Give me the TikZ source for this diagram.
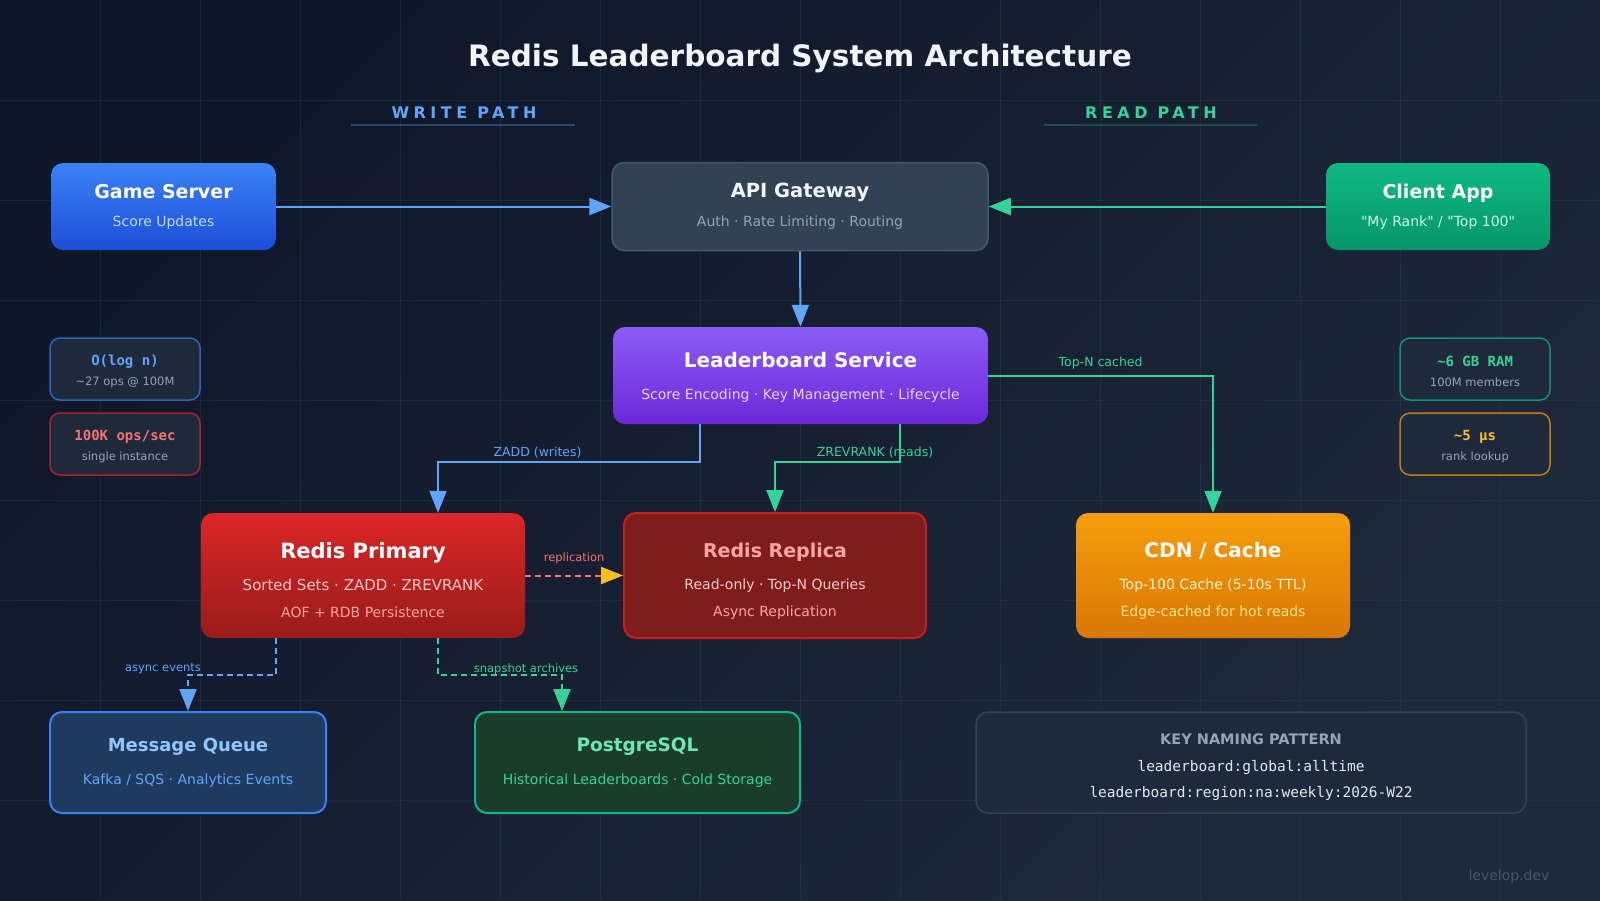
\documentclass[tikz,border=0pt]{standalone}
\usepackage{fontspec}
\setmainfont{DejaVu Sans}
\setmonofont{DejaVu Sans Mono}
\newfontfamily\spacedfont{DejaVu Sans}[LetterSpace=28]
\newfontfamily\plainfont{DejaVu Sans}
\usetikzlibrary{arrows.meta}

\definecolor{bgA}{HTML}{0F172A}
\definecolor{bgB}{HTML}{1E293B}
\definecolor{gridc}{HTML}{334155}
\definecolor{titlec}{HTML}{F1F5F9}
\definecolor{wcol}{HTML}{60A5FA}
\definecolor{rcol}{HTML}{34D399}
\definecolor{wline}{HTML}{2A4470}
\definecolor{rline}{HTML}{1F4D4A}
\definecolor{gameA}{HTML}{3B82F6}
\definecolor{gameB}{HTML}{1D4ED8}
\definecolor{gamesub}{HTML}{BFDBFE}
\definecolor{apifill}{HTML}{334155}
\definecolor{apiborder}{HTML}{475569}
\definecolor{apisub}{HTML}{94A3B8}
\definecolor{clientA}{HTML}{10B981}
\definecolor{clientB}{HTML}{059669}
\definecolor{clientsub}{HTML}{D1FAE5}
\definecolor{lbsA}{HTML}{8B5CF6}
\definecolor{lbsB}{HTML}{6D28D9}
\definecolor{lbssub}{HTML}{DDD6FE}
\definecolor{primA}{HTML}{DC2626}
\definecolor{primB}{HTML}{991B1B}
\definecolor{primsub}{HTML}{FECACA}
\definecolor{primdim}{HTML}{FCA5A5}
\definecolor{replfill}{HTML}{7F1D1D}
\definecolor{replborder}{HTML}{C81E1E}
\definecolor{cdnA}{HTML}{F59E0B}
\definecolor{cdnB}{HTML}{D97706}
\definecolor{cdnsub}{HTML}{FEF3C7}
\definecolor{cdndim}{HTML}{FDE68A}
\definecolor{mqfill}{HTML}{1E3A5F}
\definecolor{mqborder}{HTML}{3B82F6}
\definecolor{mqtitle}{HTML}{93C5FD}
\definecolor{pgfill}{HTML}{1A3C2B}
\definecolor{pgborder}{HTML}{10B981}
\definecolor{pgtitle}{HTML}{6EE7B7}
\definecolor{keysfill}{HTML}{1E293B}
\definecolor{keysborder}{HTML}{334155}
\definecolor{keysmono}{HTML}{E2E8F0}
\definecolor{statblue}{HTML}{2F62B8}
\definecolor{statred}{HTML}{A8232A}
\definecolor{statgreen}{HTML}{0F9470}
\definecolor{statamber}{HTML}{C27C12}
\definecolor{redtext}{HTML}{F87171}
\definecolor{ambertext}{HTML}{FBBF24}
\definecolor{markc}{HTML}{475569}

\tikzset{
  mainbox/.style={rounded corners=12pt, align=center, inner sep=0pt},
  statbox/.style={rounded corners=10pt, draw, line width=1.5pt, fill=bgB,
    minimum width=150pt, minimum height=62pt, align=center, inner sep=0pt,
    text=apisub, font=\fontsize{11.5}{20}\selectfont},
  gridline/.style={gridc, opacity=0.35, line width=1pt},
  flow/.style={line width=2pt, -{Triangle[length=22pt,width=17pt]}},
  dflow/.style={flow, dash pattern=on 6pt off 4pt},
  lbl/.style={font=\fontsize{12.5}{14}\selectfont, inner sep=1pt},
  smalllbl/.style={font=\fontsize{11.5}{13}\selectfont, inner sep=1pt},
  pathhead/.style={font=\fontsize{16}{18}\spacedfont\bfseries},
}

\begin{document}
\begin{tikzpicture}[x=1pt, y=-1pt]
% background and grid
\shade[top color=bgA, bottom color=bgB, shading angle=45] (0,0) rectangle (1600,900);
\useasboundingbox (0,0) rectangle (1600,900);
\foreach \gx in {100,200,...,1500} \draw[gridline] (\gx,0) -- (\gx,900);
\foreach \gy in {100,200,...,800} \draw[gridline] (0,\gy) -- (1600,\gy);

% headings
\node[text=titlec, font=\fontsize{29.5}{32}\selectfont\bfseries] (title) at (800,58) {Redis Leaderboard System Architecture};
\node[pathhead, text=wcol] (writehead) at (464,113) {WRITE PATH};
\draw[wline, line width=2pt] (351,125) -- (575,125);
\node[pathhead, text=rcol] (readhead) at (1151,113) {READ PATH};
\draw[rline, line width=2pt] (1044,125) -- (1257,125);

% top row
\node[mainbox, minimum width=225pt, minimum height=87pt, top color=gameA, bottom color=gameB,
  text=gamesub, font=\fontsize{14}{28}\selectfont] (game) at (163.5,206.5)
  {{\fontsize{19}{28}\selectfont\bfseries\color{white}Game Server}\\Score Updates};
\node[mainbox, minimum width=376pt, minimum height=88pt, fill=apifill, draw=apiborder, line width=1.5pt,
  text=apisub, font=\fontsize{14}{29}\selectfont] (api) at (800,206.5)
  {{\fontsize{19.5}{29}\selectfont\bfseries\color{titlec}API Gateway}\\Auth · Rate Limiting · Routing};
\node[mainbox, minimum width=224pt, minimum height=87pt, top color=clientA, bottom color=clientB,
  text=clientsub, font=\fontsize{14}{28}\selectfont] (client) at (1438,206.5)
  {{\fontsize{19}{28}\selectfont\bfseries\color{white}Client App}\\{\plainfont "My Rank" / "Top 100"}};

% service
\node[mainbox, minimum width=375pt, minimum height=97pt, top color=lbsA, bottom color=lbsB,
  text=lbssub, font=\fontsize{14}{32}\selectfont] (lbs) at (800.5,375.5)
  {{\fontsize{20}{32}\selectfont\bfseries\color{white}\rule{0pt}{18.5pt}Leaderboard Service}\\Score Encoding · Key Management · Lifecycle};

% stat boxes
\node[statbox, draw=statblue] (bigo) at (125,369)
  {{\fontsize{14}{20}\selectfont\ttfamily\bfseries\color{wcol}\rule{0pt}{15pt}O(log n)}\\\textasciitilde27 ops @ 100M};
\node[statbox, draw=statred] (ops) at (125,444)
  {{\fontsize{14}{20}\selectfont\ttfamily\bfseries\color{redtext}\rule{0pt}{15pt}100K ops/sec}\\single instance};
\node[statbox, draw=statgreen] (ram) at (1475,369)
  {{\fontsize{14}{20}\selectfont\ttfamily\bfseries\color{rcol}\rule{0pt}{15pt}\textasciitilde6 GB RAM}\\100M members};
\node[statbox, draw=statamber] (lat) at (1475,444)
  {{\fontsize{14}{20}\selectfont\ttfamily\bfseries\color{ambertext}\rule{0pt}{15pt}\textasciitilde5 µs}\\rank lookup};

% storage row
\node[mainbox, minimum width=324pt, minimum height=125pt, top color=primA, bottom color=primB,
  text=primdim, font=\fontsize{14}{27}\selectfont] (primary) at (363,575.5)
  {{\fontsize{21}{27}\selectfont\bfseries\color{white}\rule{0pt}{25pt}Redis Primary}\\[5pt]{\fontsize{15}{27}\selectfont\color{primsub}Sorted Sets · ZADD · ZREVRANK}\\AOF + RDB Persistence};
\node[mainbox, minimum width=302pt, minimum height=125pt, fill=replfill, draw=replborder, line width=2pt,
  text=primdim, font=\fontsize{14}{27}\selectfont] (replica) at (775,575.5)
  {{\fontsize{19}{27}\selectfont\bfseries\rule{0pt}{25pt}Redis Replica}\\[5pt]{\color{primsub}Read-only · Top-N Queries}\\Async Replication};
\node[mainbox, minimum width=274pt, minimum height=125pt, top color=cdnA, bottom color=cdnB,
  text=cdndim, font=\fontsize{14}{27}\selectfont] (cdn) at (1213,575.5)
  {{\fontsize{20}{27}\selectfont\bfseries\color{white}\rule{0pt}{25pt}CDN / Cache}\\[5pt]{\color{cdnsub}Top-100 Cache (5-10s TTL)}\\Edge-cached for hot reads};

% bottom row
\node[mainbox, minimum width=276pt, minimum height=101pt, fill=mqfill, draw=mqborder, line width=2pt,
  text=wcol, font=\fontsize{14}{33}\selectfont] (mq) at (188,762.5)
  {{\fontsize{18}{33}\selectfont\bfseries\color{mqtitle}Message Queue}\\Kafka / SQS · Analytics Events};
\node[mainbox, minimum width=325pt, minimum height=101pt, fill=pgfill, draw=pgborder, line width=2pt,
  text=rcol, font=\fontsize{14}{33}\selectfont] (pg) at (637.5,762.5)
  {{\fontsize{18.5}{33}\selectfont\bfseries\color{pgtitle}PostgreSQL}\\Historical Leaderboards · Cold Storage};
\node[mainbox, minimum width=550pt, minimum height=101pt, fill=keysfill, draw=keysborder, line width=1.5pt,
  text=keysmono, font=\fontsize{14.5}{26.5}\ttfamily] (keys) at (1251,762.5)
  {{\fontsize{14.5}{26.5}\rmfamily\bfseries\color{apisub}\rule{0pt}{21pt}KEY NAMING PATTERN}\\leaderboard:global:alltime\\leaderboard:region:na:weekly:2026-W22};

\node[text=markc, font=\fontsize{14}{16}\selectfont] (mark) at (1509,877) {levelop.dev};

% write path
\draw[flow, wcol] (game.east) -- (api.west);
\draw[flow, wcol] (api.south) -- (lbs.north);
\draw[flow, wcol] ([xshift=-100.5pt]lbs.south) -- ++(0,38)
  -| node[lbl, pos=0.31, above=2pt] {ZADD (writes)} ([xshift=75pt]primary.north);

% read path
\draw[flow, rcol] (client.west) -- (api.east);
\draw[flow, rcol] ([xshift=99.5pt]lbs.south) -- ++(0,38)
  -| node[lbl, pos=0.1, above=2pt] {ZREVRANK (reads)} (replica.north);
\draw[flow, rcol] (lbs.east) -| node[lbl, pos=0.25, above=4pt] {Top-N cached} (cdn.north);

% replication and archiving
\draw[dflow, redtext, -{Triangle[length=22pt,width=17pt,color=ambertext]}] (primary.east) -- node[smalllbl, above=10pt] {replication} (replica.west);
\draw[dflow, wcol] ([xshift=-87pt]primary.south) -- ++(0,37) -| (mq.north);
\node[smalllbl, text=wcol] (asynclbl) at (163,669) {async events};
\draw[dflow, rcol] ([xshift=75pt]primary.south) -- ++(0,37)
  -| node[smalllbl, pos=0.355, above=-1.5pt] {snapshot archives} ([xshift=-75.5pt]pg.north);
\end{tikzpicture}
\end{document}
